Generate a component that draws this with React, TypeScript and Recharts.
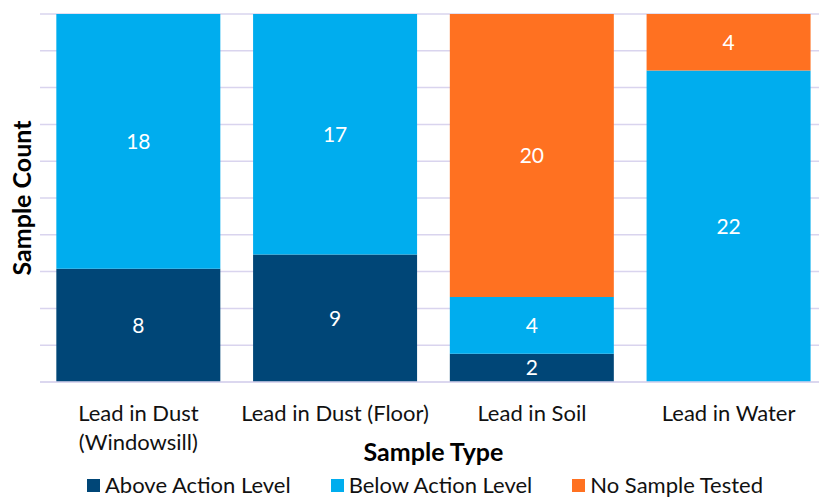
import React from "react";
import { BarChart, Bar, XAxis, YAxis, CartesianGrid, LabelList, Legend } from "recharts";

const categories = ["Lead in Dust\n(Windowsill)", "Lead in Dust (Floor)", "Lead in Soil", "Lead in Water"];
const aboveAction = [8, 9, 2, 0];
const belowAction = [18, 17, 4, 22];
const noSample = [0, 0, 20, 4];
const countTicks = [0, 2.6, 5.2, 7.8, 10.4, 13, 15.6, 18.2, 20.8, 23.4, 26];

const SERIES = [
  { key: "above", name: "Above Action Level", color: "#004677" },
  { key: "below", name: "Below Action Level", color: "#00adee" },
  { key: "none", name: "No Sample Tested", color: "#ff7121" },
];

const FONT = "Lato, 'Noto Sans', sans-serif";
const GRID = "#d9d4ee";

const data = categories.map((name, i) => ({
  name,
  above: aboveAction[i],
  below: belowAction[i],
  none: noSample[i],
}));

function CategoryTick({ x, y, payload }: any) {
  const lines = String(payload.value).split("\n");
  return (
    <text x={x} y={y} textAnchor="middle" fill="#111" fontSize={22} fontFamily={FONT}>
      {lines.map((line, i) => (
        <tspan key={i} x={x} dy={i === 0 ? 31 : 29}>
          {line}
        </tspan>
      ))}
    </text>
  );
}

function EmptyTick() {
  return <g />;
}

function LegendRow() {
  return (
    <div
      style={{
        display: "flex",
        paddingLeft: 87,
        paddingTop: 2,
        fontFamily: FONT,
        fontSize: 22,
        lineHeight: "26px",
        color: "#111",
      }}
    >
      {SERIES.map((s) => (
        <div key={s.key} style={{ display: "flex", alignItems: "center", marginRight: 40 }}>
          <span style={{ width: 13, height: 13, background: s.color, marginRight: 5, display: "inline-block" }} />
          <span>{s.name}</span>
        </div>
      ))}
    </div>
  );
}

const hideZero = (v: any) => (v ? v : "");

export default function App() {
  return (
    <div
      style={{
        position: "absolute",
        left: 0,
        top: 0,
        width: 819,
        height: 500,
        overflow: "hidden",
        background: "#fff",
      }}
    >
      <BarChart
        width={827}
        height={500}
        data={data}
        margin={{ top: 14, right: 0, bottom: 0, left: 0 }}
        barCategoryGap="8.3%"
      >
        <CartesianGrid vertical={false} stroke={GRID} strokeWidth={1.5} />
        <XAxis
          dataKey="name"
          tick={<CategoryTick />}
          tickLine={false}
          axisLine={{ stroke: GRID, strokeWidth: 1.5 }}
          interval={0}
          height={88}
          label={{
            value: "Sample Type",
            position: "insideBottom",
            offset: 9,
            fill: "#000",
            fontSize: 25,
            fontWeight: 700,
            fontFamily: FONT,
          }}
        />
        <YAxis
          domain={[0, 26]}
          ticks={countTicks}
          interval={0}
          tick={<EmptyTick />}
          tickLine={false}
          axisLine={false}
          width={40}
          label={{
            value: "Sample Count",
            angle: -90,
            position: "center",
            dx: 2,
            fill: "#000",
            fontSize: 25,
            fontWeight: 700,
            fontFamily: FONT,
          }}
        />
        <Legend verticalAlign="bottom" height={30} content={<LegendRow />} />
        {SERIES.map((s) => (
          <Bar key={s.key} dataKey={s.key} name={s.name} stackId="a" fill={s.color} isAnimationActive={false}>
            <LabelList
              dataKey={s.key}
              position="center"
              formatter={hideZero}
              fill="#fff"
              fontSize={21}
              fontFamily={FONT}
            />
          </Bar>
        ))}
      </BarChart>
    </div>
  );
}
